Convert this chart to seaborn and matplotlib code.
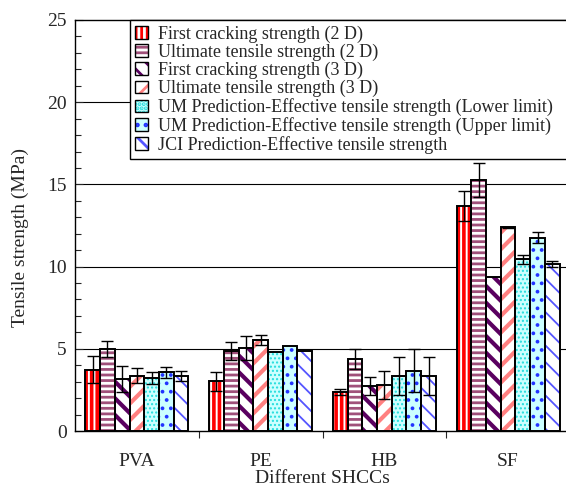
import numpy as np
import pandas as pd
import matplotlib
matplotlib.use("Agg")
import matplotlib.pyplot as plt
import seaborn as sns
from matplotlib.patches import Rectangle, Patch
from matplotlib.legend_handler import HandlerTuple

categories = ["PVA", "PE", "HB", "SF"]
series = [
    "First cracking strength (2 D)",
    "Ultimate tensile strength (2 D)",
    "First cracking strength (3 D)",
    "Ultimate tensile strength (3 D)",
    "UM Prediction-Effective tensile strength (Lower limit)",
    "UM Prediction-Effective tensile strength (Upper limit)",
    "JCI Prediction-Effective tensile strength",
]
fc2d = [3.74, 3.03, 2.35, 13.67]
ut2d = [4.98, 4.85, 4.39, 15.27]
fc3d = [3.18, 5.06, 2.73, 9.34]
ut3d = [3.36, 5.54, 2.81, 12.38]
um_low = [3.24, 4.79, 3.34, 10.44]
um_up = [3.56, 5.18, 3.66, 11.77]
jci = [3.36, 4.85, 3.34, 10.18]

fc2d_err = [0.83, 0.57, 0.18, 0.91]
ut2d_err = [0.48, 0.55, 0.59, 1.03]
fc3d_err = [0.78, 0.72, 0.53, 0.0]
ut3d_err = [0.45, 0.30, 0.85, 0.02]
um_low_err = [0.36, 0.0, 1.15, 0.28]
um_up_err = [0.32, 0.0, 1.30, 0.32]
jci_err = [0.32, 0.0, 1.15, 0.18]

values = [fc2d, ut2d, fc3d, ut3d, um_low, um_up, jci]
errors = [fc2d_err, ut2d_err, fc3d_err, ut3d_err, um_low_err, um_up_err, jci_err]

# style: (facecolor, hatch, hatchcolor, hatch linewidth)
styles = [
    ("white", "|||", "#ff0000", 2.6),
    ("white", "---", "#a0507a", 2.0),
    ("white", "\\\\", "#5a0060", 3.0),
    ("white", "//", "#ff8080", 3.0),
    ("#ccffff", "....", "#22dddd", 1.0),
    ("#ccffff", "..", "#2233ff", 1.5),
    ("white", "\\\\", "#5555ff", 1.3),
]

rows = []
for s, vals in zip(series, values):
    for c, v in zip(categories, vals):
        rows.append({"SHCC": c, "series": s, "value": v})
df = pd.DataFrame(rows)

sns.set_style("ticks")
plt.rcParams["font.family"] = ["Liberation Serif", "DejaVu Serif"]
plt.rcParams["hatch.linewidth"] = 2.0

fig = plt.figure(figsize=(5.66, 4.90), dpi=100)
ax = fig.add_axes([75 / 566, 1 - 431 / 490, (570 - 75) / 566, (431 - 20) / 490])

sns.barplot(data=df, x="SHCC", y="value", hue="series", order=categories,
            hue_order=series, width=0.834, errorbar=None, legend=False,
            palette=["white"] * 7, ax=ax)

bar_containers = list(ax.containers)
for i, cont in enumerate(bar_containers):
    fc, hatch, hc, hlw = styles[i]
    xs, ys, es = [], [], []
    for j, bar in enumerate(cont):
        bar.set_facecolor(fc)
        bar.set_edgecolor(hc)
        bar.set_hatch(hatch)
        bar.set_linewidth(0)
        try:
            bar.set_hatch_linewidth(hlw)
        except Exception:
            pass
        x0, y0 = bar.get_xy()
        w, h = bar.get_width(), bar.get_height()
        ax.add_patch(Rectangle((x0, y0), w, h, fill=False, edgecolor="black",
                               linewidth=1.4, zorder=3))
        if errors[i][j] > 0:
            xs.append(x0 + w / 2)
            ys.append(h)
            es.append(errors[i][j])
    if xs:
        ax.errorbar(xs, ys, yerr=es, fmt="none", ecolor="black",
                    elinewidth=1.0, capsize=4, capthick=1.0, zorder=4)

ax.set_ylim(0, 25)
ax.set_xlim(-0.5, 3.5)
ax.set_yticks([0, 5, 10, 15, 20, 25])
ax.set_yticks(np.arange(0, 26, 1), minor=True)
ax.set_xticks(range(len(categories)))
ax.set_xticklabels(categories)
ax.set_xticks([0.5, 1.5, 2.5], minor=True)
for yv in [5, 10, 15, 20]:
    ax.axhline(yv, color="black", linewidth=0.8, zorder=0.5)

ax.tick_params(axis="y", which="major", direction="in", length=6, width=0.8,
               labelsize=14, pad=6)
ax.tick_params(axis="y", which="minor", direction="in", length=4, width=0.8)
ax.tick_params(axis="x", which="major", length=0, labelsize=14, pad=16)
ax.tick_params(axis="x", which="minor", direction="out", length=5, width=0.8)

for sp in ax.spines.values():
    sp.set_linewidth(1.0)
    sp.set_color("black")

ax.set_xlabel("Different SHCCs", fontsize=14, labelpad=0)
ax.set_ylabel("Tensile strength (MPa)", fontsize=14)
ax.yaxis.set_label_coords(-0.093, 0.472)

handles = []
for i, s in enumerate(series):
    fc, hatch, hc, hlw = styles[i]
    p = Patch(facecolor=fc, edgecolor=hc, hatch=hatch, linewidth=0)
    o = Patch(facecolor="none", edgecolor="black", linewidth=1.0)
    handles.append((p, o))
x0f = 130 / 566
y1f = 1 - 20 / 490
leg = fig.legend(handles=handles, labels=series, loc="upper left",
                 bbox_to_anchor=(x0f, y1f - 0.3, 575 / 566 - x0f, 0.3),
                 mode="expand", fontsize=13,
                 handler_map={tuple: HandlerTuple(ndivide=1, pad=0)},
                 frameon=True, fancybox=False, framealpha=1, edgecolor="black",
                 borderpad=0.3, labelspacing=0.05, handlelength=0.7,
                 handleheight=0.7, handletextpad=0.55, borderaxespad=0)
leg.get_frame().set_linewidth(1.0)

fig.savefig("out.png", dpi=100)
